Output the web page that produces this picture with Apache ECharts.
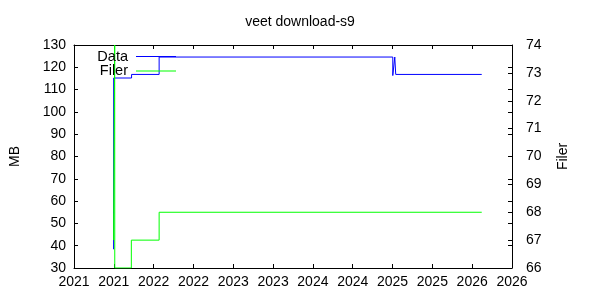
<!DOCTYPE html>
<html>
<head>
<meta charset="utf-8">
<script src="https://cdn.jsdelivr.net/npm/echarts@6/dist/echarts.min.js"></script>
<style>
html,body{margin:0;padding:0;background:#fff;}
#chart{width:600px;height:300px;}
</style>
</head>
<body>
<div id="chart"></div>
<script>
// X axis: fractional years
const xMin = 2021, xMax = 2026.5, xStep = 0.5;
const xTickLabels = ['2021','2021','2022','2022','2023','2023','2024','2024','2025','2025','2026','2026'];

// Data series (MB, left axis) - step points
const dataTimes = [2021.497, 2021.498, 2021.723, 2022.069, 2025.003, 2025.028, 2025.040, 2026.120];
const dataValues = [38.4, 115.2, 116.8, 124.6, 116.3, 124.6, 116.8, 116.8];

// Filer series (right axis) - step points
const filerTimes = [2021.497, 2021.498, 2021.511, 2021.512, 2021.720, 2022.069, 2026.120];
const filerValues = [67, 68, 74, 66, 67, 68, 68];

const font = 'Liberation Sans, Arial, sans-serif';
const black = '#000';

const chart = echarts.init(document.getElementById('chart'), null, {renderer: 'canvas'});

function pairs(xs, ys){ return xs.map((x,i)=>[x, ys[i]]); }

const option = {
  backgroundColor: '#fff',
  animation: false,
  title: {
    text: 'veet download-s9',
    left: 'center',
    top: 10,
    textStyle: {fontFamily: font, fontSize: 14, fontWeight: 'normal', color: black}
  },
  legend: [
    {
      data: ['Data'], right: 424, top: 49, orient: 'vertical', align: 'right',
      padding: 0, itemWidth: 40, itemHeight: 1, icon: 'rect',
      textStyle: {fontFamily: font, fontSize: 14.5, color: black, padding: [0,3,0,0]}
    },
    {
      data: ['Filer'], right: 424, top: 63.5, orient: 'vertical', align: 'right',
      padding: 0, itemWidth: 40, itemHeight: 1, icon: 'rect',
      textStyle: {fontFamily: font, fontSize: 14.5, color: black, padding: [0,3,0,0]}
    }
  ],
  grid: {left: 73, right: 88, top: 45, bottom: 32, containLabel: false},
  xAxis: [
    {
      type: 'value', min: xMin, max: xMax, interval: xStep, position: 'bottom',
      axisLine: {show: true, lineStyle: {color: black, width: 1}},
      axisTick: {show: true, inside: true, length: 4, lineStyle: {color: black}},
      axisLabel: {
        margin: 7, color: black, fontFamily: font, fontSize: 14,
        formatter: v => xTickLabels[Math.round((v - xMin) / xStep)]
      },
      splitLine: {show: false}
    },
    {
      type: 'value', min: xMin, max: xMax, interval: xStep, position: 'top',
      axisLine: {show: true, lineStyle: {color: black, width: 1}},
      axisTick: {show: true, inside: true, length: 4, lineStyle: {color: black}},
      axisLabel: {show: false},
      splitLine: {show: false}
    }
  ],
  yAxis: [
    {
      type: 'value', min: 30, max: 130, interval: 10, position: 'left',
      name: 'MB', nameLocation: 'middle', nameGap: 52, nameRotate: 90,
      nameTextStyle: {fontFamily: font, fontSize: 14, color: black},
      axisLine: {show: true, lineStyle: {color: black, width: 1}},
      axisTick: {show: true, inside: true, length: 4, lineStyle: {color: black}},
      axisLabel: {margin: 8, color: black, fontFamily: font, fontSize: 14},
      splitLine: {show: false}
    },
    {
      type: 'value', min: 66, max: 74, interval: 1, position: 'right',
      name: 'Filer', nameLocation: 'middle', nameGap: 44, nameRotate: 90,
      nameTextStyle: {fontFamily: font, fontSize: 14, color: black},
      axisLine: {show: true, lineStyle: {color: black, width: 1}},
      axisTick: {show: true, inside: true, length: 4, lineStyle: {color: black}},
      axisLabel: {margin: 14, color: black, fontFamily: font, fontSize: 14},
      splitLine: {show: false}
    },
    {
      type: 'value', min: 30, max: 130, interval: 10, position: 'right',
      axisLine: {show: false},
      axisTick: {show: true, inside: true, length: 4, lineStyle: {color: black}},
      axisLabel: {show: false},
      splitLine: {show: false}
    }
  ],
  series: [
    {
      name: 'Data', type: 'line', xAxisIndex: 0, yAxisIndex: 0, step: 'end',
      showSymbol: false, color: '#0000ff',
      lineStyle: {color: '#0000ff', width: 1},
      data: pairs(dataTimes, dataValues)
    },
    {
      name: 'Filer', type: 'line', xAxisIndex: 0, yAxisIndex: 1, step: 'end',
      showSymbol: false, color: '#00ff00',
      lineStyle: {color: '#00ff00', width: 1},
      data: pairs(filerTimes, filerValues)
    }
  ]
};
chart.setOption(option);
</script>
</body>
</html>
